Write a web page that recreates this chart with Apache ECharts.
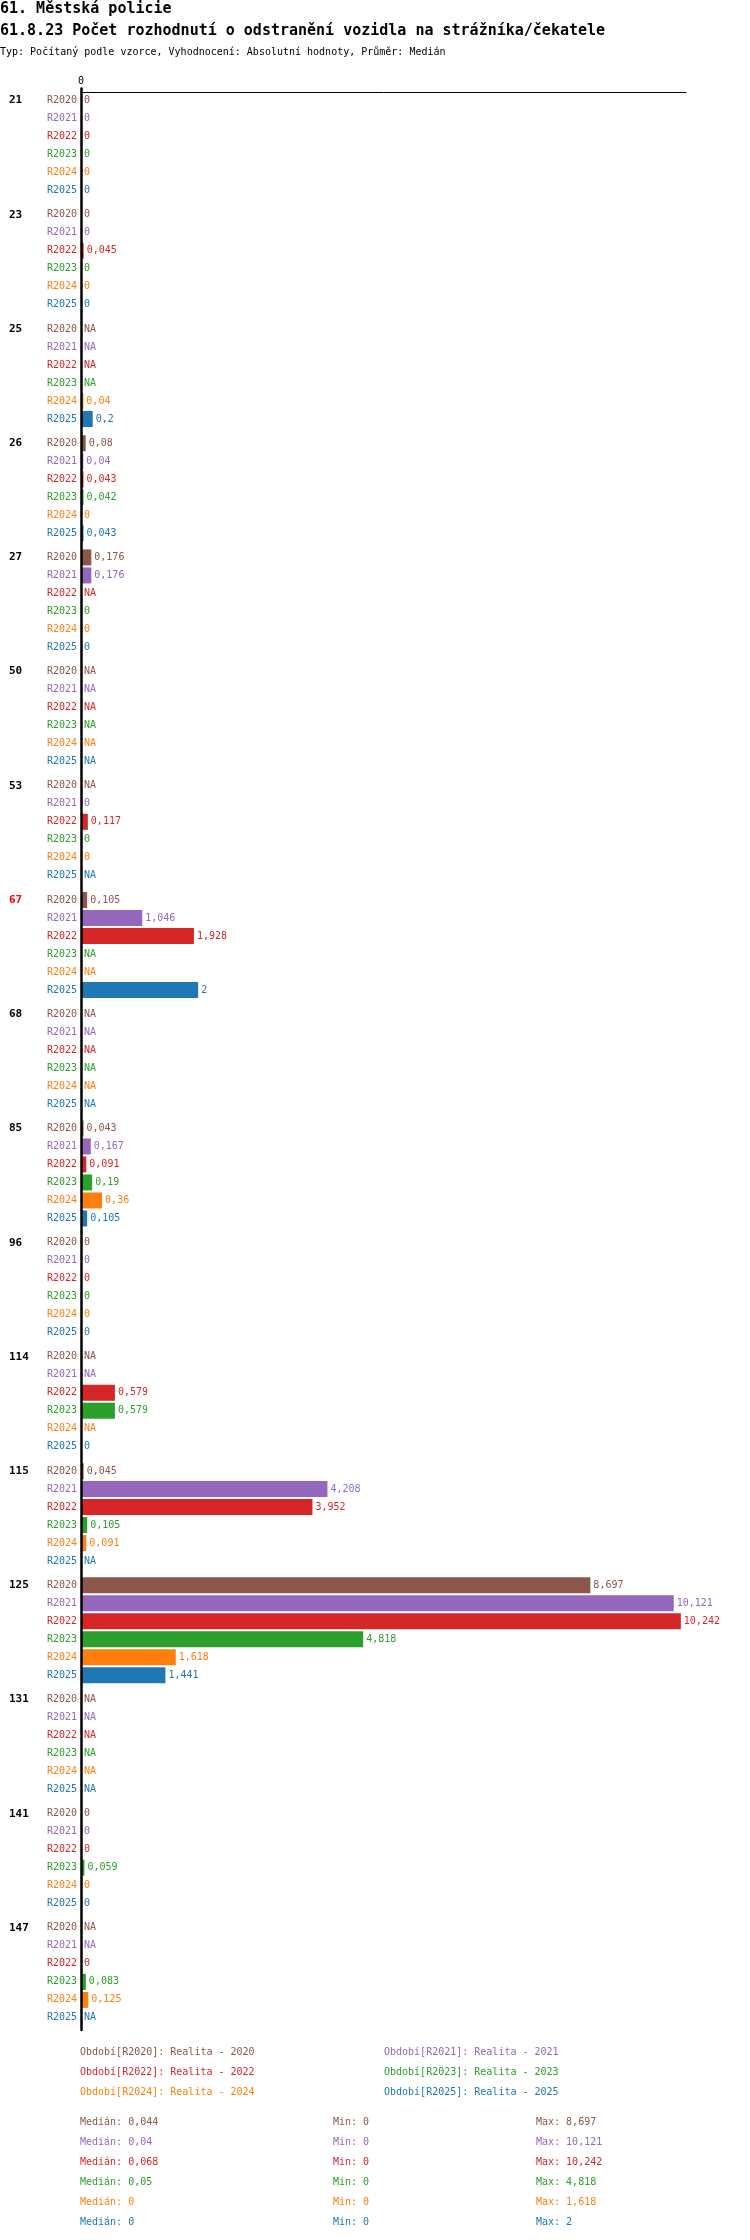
<!DOCTYPE html>
<html>
<head>
<meta charset="utf-8">
<title>61.8.23 Počet rozhodnutí o odstranění vozidla na strážníka/čekatele</title>
<script src="https://cdn.jsdelivr.net/npm/echarts@6/dist/echarts.min.js"></script>
<style>
  html, body { margin: 0; padding: 0; background: #fff; }
  #chart { width: 750px; height: 2240px; }
</style>
</head>
<body>
<div id="chart"></div>
<script>
// data
const categories = ['21', '23', '25', '26', '27', '50', '53', '67', '68', '85', '96', '114', '115', '125', '131', '141', '147'];
const highlightCats = ['67'];
const seriesNames = ['R2020', 'R2021', 'R2022', 'R2023', 'R2024', 'R2025'];
const seriesTitles = ['Realita - 2020', 'Realita - 2021', 'Realita - 2022', 'Realita - 2023', 'Realita - 2024', 'Realita - 2025'];
const colors = ['#8c564b', '#9467bd', '#d62728', '#2ca02c', '#ff7f0e', '#1f77b4'];

// null = NA
const r2020 = [0, 0, null, 0.08, 0.176, null, null, 0.105, null, 0.043, 0, null, 0.045, 8.697, null, 0, null];
const r2021 = [0, 0, null, 0.04, 0.176, null, 0, 1.046, null, 0.167, 0, null, 4.208, 10.121, null, 0, null];
const r2022 = [0, 0.045, null, 0.043, null, null, 0.117, 1.928, null, 0.091, 0, 0.579, 3.952, 10.242, null, 0, 0];
const r2023 = [0, 0, null, 0.042, 0, null, 0, null, null, 0.19, 0, 0.579, 0.105, 4.818, null, 0.059, 0.083];
const r2024 = [0, 0, 0.04, 0, 0, null, 0, null, null, 0.36, 0, null, 0.091, 1.618, null, 0, 0.125];
const r2025 = [0, 0, 0.2, 0.043, 0, null, null, 2, null, 0.105, 0, 0, null, 1.441, null, 0, null];
const values = [r2020, r2021, r2022, r2023, r2024, r2025];

const medians = [0.044, 0.04, 0.068, 0.05, 0, 0];
const mins = [0, 0, 0, 0, 0, 0];
const maxs = [8.697, 10.121, 10.242, 4.818, 1.618, 2];

const FONT = '"DejaVu Sans Mono", monospace';

function fmt(v) {
  if (v === null || v === undefined) return 'NA';
  return String(v).replace('.', ',');
}

(function(){
  const chart = echarts.init(document.getElementById('chart'), null, { renderer: 'canvas' });

  // rich styles for y-axis: category name + series names
  const rich = {
    c: { width: 38, align: 'left', fontFamily: FONT, fontSize: 11, fontWeight: 'bold', color: '#000', lineHeight: 18 },
    cr: { width: 38, align: 'left', fontFamily: FONT, fontSize: 11, fontWeight: 'bold', color: '#ff0000', lineHeight: 18 }
  };
  seriesNames.forEach((n, i) => {
    rich['s' + i] = { fontFamily: FONT, fontSize: 10, color: colors[i], lineHeight: 18, align: 'right' };
  });

  const series = seriesNames.map((name, i) => ({
    name: name,
    type: 'bar',
    barWidth: 16,
    barGap: '12.5%',
    data: values[i].map(v => (v === null ? 0 : v)),
    itemStyle: { color: colors[i] },
    label: {
      show: true,
      position: 'right',
      distance: 3,
      fontFamily: FONT,
      fontSize: 10,
      color: colors[i],
      formatter: p => fmt(values[i][p.dataIndex])
    },
    emphasis: { disabled: true },
    z: 2
  }));

  // texts: titles, legend, stats
  const graphic = [
    { type: 'text', x: 0, y: 9, style: { text: '61. Městská policie', font: 'bold 15px ' + FONT, fill: '#000', verticalAlign: 'middle' } },
    { type: 'text', x: 0, y: 31, style: { text: '61.8.23 Počet rozhodnutí o odstranění vozidla na strážníka/čekatele', font: 'bold 15px ' + FONT, fill: '#000', verticalAlign: 'middle' } },
    { type: 'text', x: 0, y: 52, style: { text: 'Typ: Počítaný podle vzorce, Vyhodnocení: Absolutní hodnoty, Průměr: Medián', font: '10px ' + FONT, fill: '#000', verticalAlign: 'middle' } }
  ];
  seriesNames.forEach((n, i) => {
    graphic.push({
      type: 'text',
      x: i % 2 === 0 ? 80 : 384,
      y: 2052 + Math.floor(i / 2) * 20,
      style: { text: 'Období[' + n + ']: ' + seriesTitles[i], font: '10px ' + FONT, fill: colors[i], verticalAlign: 'middle' }
    });
  });
  seriesNames.forEach((n, i) => {
    const y = 2122 + i * 20;
    graphic.push({ type: 'text', x: 80, y: y, style: { text: 'Medián: ' + fmt(medians[i]), font: '10px ' + FONT, fill: colors[i], verticalAlign: 'middle' } });
    graphic.push({ type: 'text', x: 333, y: y, style: { text: 'Min: ' + fmt(mins[i]), font: '10px ' + FONT, fill: colors[i], verticalAlign: 'middle' } });
    graphic.push({ type: 'text', x: 536, y: y, style: { text: 'Max: ' + fmt(maxs[i]), font: '10px ' + FONT, fill: colors[i], verticalAlign: 'middle' } });
  });

  chart.setOption({
    animation: false,
    backgroundColor: '#fff',
    grid: { left: 81, right: 64, top: 88.5, height: 1941.5, containLabel: false },
    xAxis: {
      type: 'value',
      position: 'top',
      offset: -4,
      min: 0,
      // small padding beyond the largest bar
      max: v => v.max * 1.0086,
      interval: 100,
      axisLine: { show: true, lineStyle: { color: '#000', width: 1 } },
      axisTick: { show: false },
      splitLine: { show: false },
      axisLabel: {
        margin: 6,
        fontFamily: FONT,
        fontSize: 10,
        color: '#000',
        formatter: v => (v === 0 ? '0' : '')
      }
    },
    yAxis: {
      type: 'category',
      inverse: true,
      data: categories,
      z: 10,
      axisLine: { show: true, lineStyle: { color: '#000', width: 2.5 } },
      axisTick: { show: false },
      splitLine: { show: false },
      axisLabel: {
        margin: 4,
        interval: 0,
        formatter: function(cat) {
          const cs = highlightCats.indexOf(cat) >= 0 ? 'cr' : 'c';
          return seriesNames.map((n, i) => (i === 0 ? '{' + cs + '|' + cat + '}' : '') + '{s' + i + '|' + n + '}').join('\n');
        },
        rich: rich
      }
    },
    series: series,
    graphic: graphic
  });
})();
</script>
</body>
</html>
